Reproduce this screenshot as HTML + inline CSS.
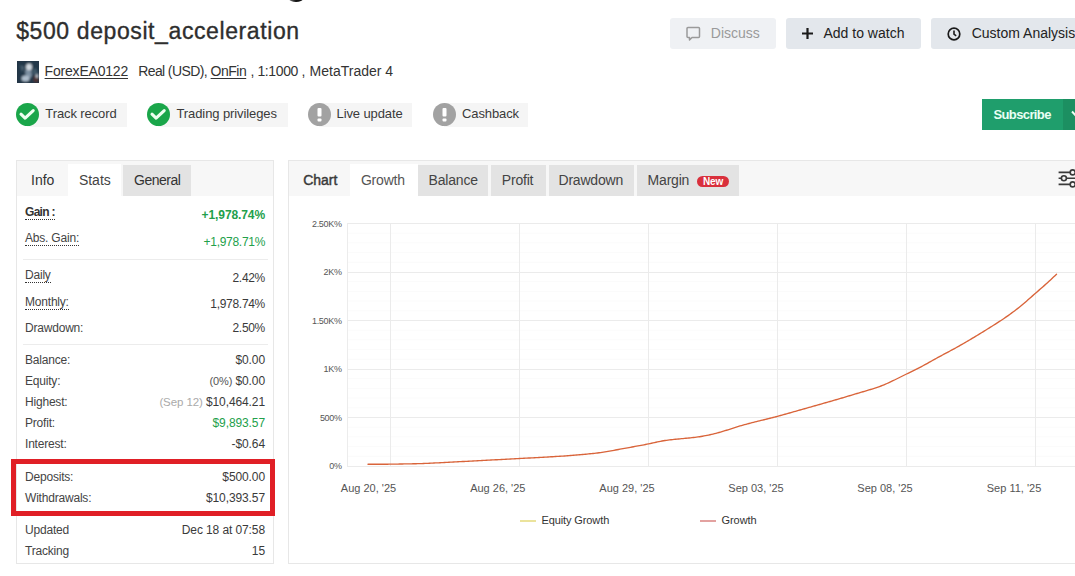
<!DOCTYPE html>
<html><head><meta charset="utf-8"><style>
html,body{margin:0;padding:0;background:#fff;width:1075px;height:576px;overflow:hidden;position:relative;font-family:"Liberation Sans",sans-serif}
.t{position:absolute;white-space:nowrap;line-height:1}
.r{position:absolute}
u{text-underline-offset:2px}
</style></head><body>
<div class="r" style="left:289px;top:-5px;width:14px;height:6.5px;border-radius:50%;background:linear-gradient(90deg,#777,#111 50%,#111)"></div>
<div class="t" style="left:16.20px;top:19.73px;font-size:23px;color:#2e2e2e;-webkit-text-stroke:0.35px #2e2e2e;letter-spacing:0.6px">$500 deposit_acceleration</div>
<svg class="r" style="left:17px;top:61px" width="22" height="22" viewBox="0 0 22 22"><defs><filter id="bl"><feGaussianBlur stdDeviation="0.9"/></filter></defs><rect width="22" height="22" fill="#1f3040"/><g filter="url(#bl)"><rect x="0" y="0" width="22" height="22" fill="#243848"/><path d="M3 4l5 2-3 5z" fill="#4a6070"/><ellipse cx="12" cy="6" rx="3" ry="3.5" fill="#d0d8e0"/><path d="M8 9l6 0 1 6-2 2-4 0z" fill="#7d90a2"/><ellipse cx="8.5" cy="17.5" rx="4" ry="3" fill="#aebdcc"/><ellipse cx="19" cy="18" rx="2.5" ry="3.5" fill="#503030"/><ellipse cx="20" cy="15" rx="1.5" ry="2" fill="#c0c8d0"/><path d="M14 10l5-3 2 6-4 1z" fill="#3f5868"/></g></svg>
<div class="t" style="left:44.60px;top:63.65px;font-size:14px;color:#333;letter-spacing:-0.2px"><u>ForexEA0122</u></div>
<div class="t" style="left:138.20px;top:63.65px;font-size:14px;color:#333;letter-spacing:-0.6px">Real (USD),</div>
<div class="t" style="left:210.60px;top:63.65px;font-size:14px;color:#333;letter-spacing:-0.5px"><u>OnFin</u></div>
<div class="t" style="left:250.50px;top:63.65px;font-size:14px;color:#333;letter-spacing:-0.4px">, 1:1000 ,</div>
<div class="t" style="left:309.60px;top:63.65px;font-size:14px;color:#333;letter-spacing:0px">MetaTrader 4</div>
<div class="r" style="left:670px;top:18px;width:106px;height:31px;background:#eff1f4;border-radius:3px"></div>
<svg class="r" style="left:685px;top:26px" width="17" height="16" viewBox="0 0 17 16"><path d="M3 1.5h10.5a1 1 0 0 1 1 1v8a1 1 0 0 1 -1 1h-6.5l-2.5 2.5v-2.5h-1.5a1 1 0 0 1 -1 -1v-8a1 1 0 0 1 1 -1z" fill="none" stroke="#9a9a9a" stroke-width="1.5" stroke-linejoin="round"/></svg>
<div class="t" style="left:710.80px;top:25.95px;font-size:14px;color:#9a9a9a;">Discuss</div>
<div class="r" style="left:786px;top:18px;width:135px;height:31px;background:#e3e7ec;border-radius:3px"></div>
<svg class="r" style="left:801px;top:27px" width="13" height="13" viewBox="0 0 13 13"><path d="M6.5 1v11M1 6.5h11" stroke="#1a1a1a" stroke-width="2.2"/></svg>
<div class="t" style="left:823.50px;top:25.95px;font-size:14px;color:#222;">Add to watch</div>
<div class="r" style="left:931px;top:18px;width:154px;height:31px;background:#e3e7ec;border-radius:3px"></div>
<svg class="r" style="left:946px;top:26.5px" width="16" height="14" viewBox="0 0 16 14"><circle cx="8" cy="7" r="5.8" fill="none" stroke="#1a1a1a" stroke-width="1.7"/><path d="M8 3.6v3.6l2.2 1.6" fill="none" stroke="#1a1a1a" stroke-width="1.6"/></svg>
<div class="t" style="left:971.70px;top:25.95px;font-size:14px;color:#222;">Custom Analysis</div>
<div class="r" style="left:27px;top:103px;width:100px;height:24px;background:#f5f5f5"></div>
<svg class="r" style="left:16px;top:103px" width="23" height="23" viewBox="0 0 23 23"><circle cx="11.5" cy="11.5" r="11.5" fill="#1aa64a"/><path d="M5 11.2L9.1 15.1L17.2 7.6" fill="none" stroke="#eefff0" stroke-width="3.1" stroke-linecap="round" stroke-linejoin="round"/></svg>
<div class="t" style="left:45.30px;top:106.90px;font-size:13px;color:#3a3a3a;letter-spacing:-0.1px">Track record</div>
<div class="r" style="left:158px;top:103px;width:130px;height:24px;background:#f5f5f5"></div>
<svg class="r" style="left:147px;top:103px" width="23" height="23" viewBox="0 0 23 23"><circle cx="11.5" cy="11.5" r="11.5" fill="#1aa64a"/><path d="M5 11.2L9.1 15.1L17.2 7.6" fill="none" stroke="#eefff0" stroke-width="3.1" stroke-linecap="round" stroke-linejoin="round"/></svg>
<div class="t" style="left:176.50px;top:106.90px;font-size:13px;color:#3a3a3a;letter-spacing:-0.1px">Trading privileges</div>
<div class="r" style="left:319px;top:103px;width:93px;height:24px;background:#f5f5f5"></div>
<svg class="r" style="left:308px;top:103px" width="23" height="23" viewBox="0 0 23 23"><circle cx="11.5" cy="11.5" r="11.5" fill="#a2a2a2"/><rect x="9.5" y="5" width="4" height="8.5" rx="1" fill="#fff"/><rect x="9.5" y="15.5" width="4" height="3" rx="1" fill="#fff"/></svg>
<div class="t" style="left:336.50px;top:106.90px;font-size:13px;color:#3a3a3a;letter-spacing:-0.1px">Live update</div>
<div class="r" style="left:444px;top:103px;width:84px;height:24px;background:#f5f5f5"></div>
<svg class="r" style="left:433px;top:103px" width="23" height="23" viewBox="0 0 23 23"><circle cx="11.5" cy="11.5" r="11.5" fill="#a2a2a2"/><rect x="9.5" y="5" width="4" height="8.5" rx="1" fill="#fff"/><rect x="9.5" y="15.5" width="4" height="3" rx="1" fill="#fff"/></svg>
<div class="t" style="left:462.00px;top:106.90px;font-size:13px;color:#3a3a3a;letter-spacing:-0.1px">Cashback</div>
<div class="r" style="left:982px;top:99px;width:93px;height:31px;background:#1f9e6c"></div>
<div class="r" style="left:1063px;top:99px;width:12px;height:31px;background:#1c8f61"></div>
<div class="t" style="left:993.40px;top:107.80px;font-size:13px;color:#eafff4;font-weight:bold;letter-spacing:-0.6px">Subscribe</div>
<svg class="r" style="left:1071px;top:110px" width="8" height="8" viewBox="0 0 8 8"><path d="M1 1.5l3 3.2 3-3.2" fill="none" stroke="#eafff4" stroke-width="2"/></svg>
<div class="r" style="left:16px;top:160px;width:258px;height:404px;border:1px solid #e7e7e7;box-sizing:border-box;background:#fff"></div>
<div class="r" style="left:17px;top:161px;width:256px;height:35px;background:#f7f7f7"></div>
<div class="r" style="left:68px;top:164px;width:53px;height:32px;background:#fff"></div>
<div class="r" style="left:123px;top:165px;width:68px;height:31px;background:#e3e3e3"></div>
<div class="t" style="left:31.00px;top:172.95px;font-size:14px;color:#333;">Info</div>
<div class="t" style="left:78.90px;top:172.95px;font-size:14px;color:#444;">Stats</div>
<div class="t" style="left:134.00px;top:172.95px;font-size:14px;color:#333;letter-spacing:-0.5px">General</div>
<div class="t" style="left:25.00px;top:206.24px;font-size:12px;color:#333;font-weight:bold;border-bottom:1px dotted #333;padding-bottom:1px;letter-spacing:-0.7px">Gain :</div>
<div class="t" style="left:25.00px;top:231.54px;font-size:12px;color:#444;border-bottom:1px dotted #333;padding-bottom:1px;letter-spacing:-0.2px">Abs. Gain:</div>
<div class="r" style="left:23px;top:259px;width:245px;height:1px;background:#ececec"></div>
<div class="t" style="left:25.00px;top:269.24px;font-size:12px;color:#444;border-bottom:1px dotted #333;padding-bottom:1px;letter-spacing:-0.2px">Daily</div>
<div class="t" style="left:25.00px;top:295.64px;font-size:12px;color:#444;border-bottom:1px dotted #333;padding-bottom:1px;letter-spacing:-0.2px">Monthly:</div>
<div class="t" style="left:25.00px;top:321.74px;font-size:12px;color:#444;letter-spacing:-0.2px">Drawdown:</div>
<div class="r" style="left:23px;top:344px;width:245px;height:1px;background:#ececec"></div>
<div class="t" style="left:25.00px;top:353.59px;font-size:12px;color:#444;letter-spacing:-0.2px">Balance:</div>
<div class="t" style="left:25.00px;top:375.34px;font-size:12px;color:#444;letter-spacing:-0.2px">Equity:</div>
<div class="t" style="left:25.00px;top:396.24px;font-size:12px;color:#444;letter-spacing:-0.2px">Highest:</div>
<div class="t" style="left:25.00px;top:417.34px;font-size:12px;color:#444;letter-spacing:-0.2px">Profit:</div>
<div class="t" style="left:25.00px;top:438.34px;font-size:12px;color:#444;letter-spacing:-0.2px">Interest:</div>
<div class="t" style="left:25.00px;top:471.24px;font-size:12px;color:#444;letter-spacing:-0.2px">Deposits:</div>
<div class="t" style="left:25.00px;top:492.24px;font-size:12px;color:#444;letter-spacing:-0.2px">Withdrawals:</div>
<div class="t" style="left:25.00px;top:523.54px;font-size:12px;color:#444;letter-spacing:-0.2px">Updated</div>
<div class="t" style="left:25.00px;top:544.54px;font-size:12px;color:#444;letter-spacing:-0.2px">Tracking</div>
<div class="t" style="right:810.00px;top:208.59px;font-size:12px;color:#22a04b;font-weight:bold;letter-spacing:-0.1px">+1,978.74%</div>
<div class="t" style="right:810.00px;top:235.64px;font-size:12px;color:#22a04b;letter-spacing:-0.3px">+1,978.71%</div>
<div class="t" style="right:810.00px;top:271.84px;font-size:12px;color:#3a3a3a;letter-spacing:-0.3px">2.42%</div>
<div class="t" style="right:810.00px;top:297.84px;font-size:12px;color:#3a3a3a;letter-spacing:-0.3px">1,978.74%</div>
<div class="t" style="right:810.00px;top:321.84px;font-size:12px;color:#3a3a3a;letter-spacing:-0.3px">2.50%</div>
<div class="t" style="right:810.00px;top:353.84px;font-size:12px;color:#3a3a3a;letter-spacing:-0.1px">$0.00</div>
<div class="t" style="right:810.00px;top:374.84px;font-size:12px;color:#3a3a3a;letter-spacing:-0.1px"><span style="font-size:11px;color:#555">(0%)</span> $0.00</div>
<div class="t" style="right:810.00px;top:395.84px;font-size:12px;color:#3a3a3a;letter-spacing:-0.1px"><span style="font-size:11.5px;color:#aaa">(Sep 12)</span> $10,464.21</div>
<div class="t" style="right:810.00px;top:416.84px;font-size:12px;color:#22a04b;letter-spacing:-0.1px">$9,893.57</div>
<div class="t" style="right:810.00px;top:437.84px;font-size:12px;color:#3a3a3a;letter-spacing:-0.1px">-$0.64</div>
<div class="t" style="right:810.00px;top:470.84px;font-size:12px;color:#3a3a3a;letter-spacing:-0.1px">$500.00</div>
<div class="t" style="right:810.00px;top:491.84px;font-size:12px;color:#3a3a3a;letter-spacing:-0.1px">$10,393.57</div>
<div class="t" style="right:810.00px;top:523.84px;font-size:12px;color:#3a3a3a;letter-spacing:-0.1px">Dec 18 at 07:58</div>
<div class="t" style="right:810.00px;top:544.84px;font-size:12px;color:#3a3a3a;letter-spacing:-0.1px">15</div>
<div class="r" style="left:11px;top:459px;width:264px;height:57px;border:5px solid #e01f26;box-sizing:border-box"></div>
<div class="r" style="left:288px;top:160px;width:802px;height:404px;border:1px solid #e7e7e7;box-sizing:border-box;background:#fff"></div>
<div class="r" style="left:289px;top:161px;width:800px;height:35px;background:#f7f7f7"></div>
<div class="t" style="left:303.20px;top:172.95px;font-size:14px;color:#3a3a3a;-webkit-text-stroke:0.45px #3a3a3a">Chart</div>
<div class="r" style="left:350px;top:164px;width:68px;height:32px;background:#fff"></div>
<div class="t" style="left:360.90px;top:172.95px;font-size:14px;color:#555;letter-spacing:-0.2px">Growth</div>
<div class="r" style="left:418px;top:165px;width:70px;height:31px;background:#e3e3e3"></div>
<div class="t" style="left:428.60px;top:172.95px;font-size:14px;color:#444;letter-spacing:-0.2px">Balance</div>
<div class="r" style="left:491px;top:165px;width:55px;height:31px;background:#e3e3e3"></div>
<div class="t" style="left:501.80px;top:172.95px;font-size:14px;color:#444;letter-spacing:-0.2px">Profit</div>
<div class="r" style="left:549px;top:165px;width:85px;height:31px;background:#e3e3e3"></div>
<div class="t" style="left:558.50px;top:172.95px;font-size:14px;color:#444;letter-spacing:-0.2px">Drawdown</div>
<div class="r" style="left:637px;top:165px;width:102px;height:31px;background:#e3e3e3"></div>
<div class="t" style="left:647.60px;top:172.95px;font-size:14px;color:#444;letter-spacing:-0.2px">Margin</div>
<div class="r" style="left:697px;top:176px;width:32px;height:11px;background:#d9303c;border-radius:6px"></div>
<div class="t" style="left:703.00px;top:176.73px;font-size:10px;color:#fff;font-weight:bold;letter-spacing:-0.2px">New</div>
<svg class="r" style="left:1057px;top:166px" width="20" height="24" viewBox="0 0 20 24"><g fill="none" stroke="#3a3a3a" stroke-width="1.6"><path d="M1.6 6.4h11.6M1.6 12.3h2.8M9.4 12.3h10.6M1.6 18.4h11.6"/><circle cx="15.7" cy="6.4" r="2.5"/><circle cx="6.9" cy="12.3" r="2.5"/><circle cx="15.7" cy="18.4" r="2.5"/></g></svg>
<svg class="r" style="left:0;top:0" width="1075" height="576" viewBox="0 0 1075 576"><line x1="347" x2="1075" y1="233.2" y2="233.2" stroke="#fbfbfb" stroke-width="1"/><line x1="347" x2="1075" y1="242.9" y2="242.9" stroke="#fbfbfb" stroke-width="1"/><line x1="347" x2="1075" y1="252.6" y2="252.6" stroke="#fbfbfb" stroke-width="1"/><line x1="347" x2="1075" y1="262.3" y2="262.3" stroke="#fbfbfb" stroke-width="1"/><line x1="347" x2="1075" y1="281.7" y2="281.7" stroke="#fbfbfb" stroke-width="1"/><line x1="347" x2="1075" y1="291.4" y2="291.4" stroke="#fbfbfb" stroke-width="1"/><line x1="347" x2="1075" y1="301.1" y2="301.1" stroke="#fbfbfb" stroke-width="1"/><line x1="347" x2="1075" y1="310.8" y2="310.8" stroke="#fbfbfb" stroke-width="1"/><line x1="347" x2="1075" y1="330.2" y2="330.2" stroke="#fbfbfb" stroke-width="1"/><line x1="347" x2="1075" y1="339.9" y2="339.9" stroke="#fbfbfb" stroke-width="1"/><line x1="347" x2="1075" y1="349.6" y2="349.6" stroke="#fbfbfb" stroke-width="1"/><line x1="347" x2="1075" y1="359.3" y2="359.3" stroke="#fbfbfb" stroke-width="1"/><line x1="347" x2="1075" y1="378.7" y2="378.7" stroke="#fbfbfb" stroke-width="1"/><line x1="347" x2="1075" y1="388.4" y2="388.4" stroke="#fbfbfb" stroke-width="1"/><line x1="347" x2="1075" y1="398.1" y2="398.1" stroke="#fbfbfb" stroke-width="1"/><line x1="347" x2="1075" y1="407.8" y2="407.8" stroke="#fbfbfb" stroke-width="1"/><line x1="347" x2="1075" y1="427.2" y2="427.2" stroke="#fbfbfb" stroke-width="1"/><line x1="347" x2="1075" y1="436.9" y2="436.9" stroke="#fbfbfb" stroke-width="1"/><line x1="347" x2="1075" y1="446.6" y2="446.6" stroke="#fbfbfb" stroke-width="1"/><line x1="347" x2="1075" y1="456.3" y2="456.3" stroke="#fbfbfb" stroke-width="1"/><line x1="347" x2="1075" y1="223.5" y2="223.5" stroke="#ebebeb" stroke-width="1"/><line x1="347" x2="1075" y1="272.5" y2="272.5" stroke="#ebebeb" stroke-width="1"/><line x1="347" x2="1075" y1="320.5" y2="320.5" stroke="#ebebeb" stroke-width="1"/><line x1="347" x2="1075" y1="369.5" y2="369.5" stroke="#ebebeb" stroke-width="1"/><line x1="347" x2="1075" y1="417.5" y2="417.5" stroke="#ebebeb" stroke-width="1"/><line x1="347" x2="1075" y1="466.5" y2="466.5" stroke="#ebebeb" stroke-width="1"/><line x1="390.5" x2="390.5" y1="223" y2="466" stroke="#ebebeb" stroke-width="1"/><line x1="519.5" x2="519.5" y1="223" y2="466" stroke="#ebebeb" stroke-width="1"/><line x1="648.5" x2="648.5" y1="223" y2="466" stroke="#ebebeb" stroke-width="1"/><line x1="777.5" x2="777.5" y1="223" y2="466" stroke="#ebebeb" stroke-width="1"/><line x1="906.5" x2="906.5" y1="223" y2="466" stroke="#ebebeb" stroke-width="1"/><line x1="1035.5" x2="1035.5" y1="223" y2="466" stroke="#ebebeb" stroke-width="1"/><line x1="347.5" x2="347.5" y1="223" y2="466" stroke="#ececec" stroke-width="1"/><path d="M368.0,464.29 L369.5,464.29 L371.0,464.28 L372.5,464.28 L374.0,464.27 L375.5,464.27 L377.0,464.26 L378.5,464.25 L380.0,464.25 L381.5,464.24 L383.0,464.23 L384.5,464.22 L386.0,464.21 L387.5,464.20 L389.0,464.19 L390.5,464.17 L392.0,464.15 L393.5,464.13 L395.0,464.10 L396.5,464.08 L398.0,464.05 L399.5,464.02 L401.0,464.00 L402.5,463.97 L404.0,463.94 L405.5,463.91 L407.0,463.88 L408.5,463.86 L410.0,463.83 L411.5,463.80 L413.0,463.77 L414.5,463.74 L416.0,463.71 L417.5,463.68 L419.0,463.64 L420.5,463.60 L422.0,463.55 L423.5,463.50 L425.0,463.44 L426.5,463.38 L428.0,463.31 L429.5,463.24 L431.0,463.17 L432.5,463.10 L434.0,463.02 L435.5,462.95 L437.0,462.87 L438.5,462.80 L440.0,462.73 L441.5,462.65 L443.0,462.57 L444.5,462.50 L446.0,462.42 L447.5,462.34 L449.0,462.26 L450.5,462.18 L452.0,462.10 L453.5,462.02 L455.0,461.94 L456.5,461.86 L458.0,461.78 L459.5,461.70 L461.0,461.62 L462.5,461.54 L464.0,461.46 L465.5,461.38 L467.0,461.30 L468.5,461.22 L470.0,461.14 L471.5,461.06 L473.0,460.98 L474.5,460.90 L476.0,460.82 L477.5,460.74 L479.0,460.66 L480.5,460.58 L482.0,460.50 L483.5,460.42 L485.0,460.34 L486.5,460.26 L488.0,460.18 L489.5,460.10 L491.0,460.02 L492.5,459.94 L494.0,459.87 L495.5,459.79 L497.0,459.71 L498.5,459.63 L500.0,459.55 L501.5,459.47 L503.0,459.39 L504.5,459.31 L506.0,459.23 L507.5,459.16 L509.0,459.08 L510.5,459.00 L512.0,458.92 L513.5,458.84 L515.0,458.76 L516.5,458.68 L518.0,458.60 L519.5,458.52 L521.0,458.44 L522.5,458.36 L524.0,458.28 L525.5,458.20 L527.0,458.12 L528.5,458.04 L530.0,457.96 L531.5,457.88 L533.0,457.80 L534.5,457.72 L536.0,457.64 L537.5,457.56 L539.0,457.47 L540.5,457.39 L542.0,457.31 L543.5,457.22 L545.0,457.14 L546.5,457.05 L548.0,456.97 L549.5,456.88 L551.0,456.79 L552.5,456.71 L554.0,456.62 L555.5,456.53 L557.0,456.44 L558.5,456.35 L560.0,456.26 L561.5,456.16 L563.0,456.06 L564.5,455.96 L566.0,455.85 L567.5,455.74 L569.0,455.62 L570.5,455.49 L572.0,455.37 L573.5,455.24 L575.0,455.12 L576.5,454.99 L578.0,454.86 L579.5,454.73 L581.0,454.61 L582.5,454.48 L584.0,454.34 L585.5,454.21 L587.0,454.07 L588.5,453.93 L590.0,453.79 L591.5,453.64 L593.0,453.49 L594.5,453.33 L596.0,453.16 L597.5,452.98 L599.0,452.79 L600.5,452.59 L602.0,452.36 L603.5,452.13 L605.0,451.88 L606.5,451.62 L608.0,451.36 L609.5,451.09 L611.0,450.83 L612.5,450.56 L614.0,450.29 L615.5,450.02 L617.0,449.75 L618.5,449.48 L620.0,449.21 L621.5,448.94 L623.0,448.66 L624.5,448.39 L626.0,448.12 L627.5,447.84 L629.0,447.57 L630.5,447.29 L632.0,447.02 L633.5,446.74 L635.0,446.46 L636.5,446.19 L638.0,445.91 L639.5,445.63 L641.0,445.36 L642.5,445.08 L644.0,444.79 L645.5,444.50 L647.0,444.20 L648.5,443.90 L650.0,443.58 L651.5,443.26 L653.0,442.93 L654.5,442.60 L656.0,442.26 L657.5,441.93 L659.0,441.62 L660.5,441.31 L662.0,441.03 L663.5,440.77 L665.0,440.53 L666.5,440.32 L668.0,440.13 L669.5,439.95 L671.0,439.77 L672.5,439.61 L674.0,439.45 L675.5,439.29 L677.0,439.13 L678.5,438.98 L680.0,438.84 L681.5,438.69 L683.0,438.55 L684.5,438.41 L686.0,438.28 L687.5,438.14 L689.0,438.00 L690.5,437.86 L692.0,437.70 L693.5,437.53 L695.0,437.35 L696.5,437.16 L698.0,436.94 L699.5,436.72 L701.0,436.48 L702.5,436.22 L704.0,435.95 L705.5,435.67 L707.0,435.37 L708.5,435.06 L710.0,434.73 L711.5,434.39 L713.0,434.04 L714.5,433.67 L716.0,433.29 L717.5,432.89 L719.0,432.48 L720.5,432.05 L722.0,431.61 L723.5,431.17 L725.0,430.71 L726.5,430.24 L728.0,429.77 L729.5,429.30 L731.0,428.81 L732.5,428.33 L734.0,427.84 L735.5,427.36 L737.0,426.89 L738.5,426.42 L740.0,425.97 L741.5,425.53 L743.0,425.10 L744.5,424.68 L746.0,424.28 L747.5,423.87 L749.0,423.48 L750.5,423.09 L752.0,422.70 L753.5,422.32 L755.0,421.95 L756.5,421.57 L758.0,421.20 L759.5,420.83 L761.0,420.46 L762.5,420.09 L764.0,419.72 L765.5,419.35 L767.0,418.98 L768.5,418.61 L770.0,418.24 L771.5,417.87 L773.0,417.49 L774.5,417.11 L776.0,416.73 L777.5,416.33 L779.0,415.93 L780.5,415.52 L782.0,415.11 L783.5,414.69 L785.0,414.26 L786.5,413.84 L788.0,413.41 L789.5,412.99 L791.0,412.56 L792.5,412.14 L794.0,411.71 L795.5,411.29 L797.0,410.86 L798.5,410.43 L800.0,410.01 L801.5,409.59 L803.0,409.16 L804.5,408.74 L806.0,408.31 L807.5,407.89 L809.0,407.47 L810.5,407.04 L812.0,406.62 L813.5,406.19 L815.0,405.77 L816.5,405.34 L818.0,404.92 L819.5,404.49 L821.0,404.06 L822.5,403.63 L824.0,403.20 L825.5,402.77 L827.0,402.34 L828.5,401.91 L830.0,401.48 L831.5,401.05 L833.0,400.61 L834.5,400.18 L836.0,399.75 L837.5,399.31 L839.0,398.87 L840.5,398.43 L842.0,397.99 L843.5,397.55 L845.0,397.10 L846.5,396.65 L848.0,396.21 L849.5,395.76 L851.0,395.31 L852.5,394.86 L854.0,394.41 L855.5,393.96 L857.0,393.52 L858.5,393.07 L860.0,392.62 L861.5,392.17 L863.0,391.73 L864.5,391.28 L866.0,390.84 L867.5,390.39 L869.0,389.95 L870.5,389.50 L872.0,389.05 L873.5,388.59 L875.0,388.12 L876.5,387.62 L878.0,387.11 L879.5,386.57 L881.0,386.00 L882.5,385.41 L884.0,384.79 L885.5,384.15 L887.0,383.50 L888.5,382.82 L890.0,382.14 L891.5,381.44 L893.0,380.72 L894.5,379.99 L896.0,379.25 L897.5,378.50 L899.0,377.75 L900.5,376.99 L902.0,376.24 L903.5,375.49 L905.0,374.74 L906.5,374.00 L908.0,373.27 L909.5,372.54 L911.0,371.81 L912.5,371.08 L914.0,370.35 L915.5,369.62 L917.0,368.88 L918.5,368.12 L920.0,367.35 L921.5,366.57 L923.0,365.76 L924.5,364.95 L926.0,364.12 L927.5,363.29 L929.0,362.46 L930.5,361.62 L932.0,360.78 L933.5,359.94 L935.0,359.11 L936.5,358.28 L938.0,357.45 L939.5,356.63 L941.0,355.81 L942.5,355.00 L944.0,354.19 L945.5,353.39 L947.0,352.58 L948.5,351.78 L950.0,350.98 L951.5,350.17 L953.0,349.36 L954.5,348.55 L956.0,347.73 L957.5,346.90 L959.0,346.06 L960.5,345.21 L962.0,344.35 L963.5,343.48 L965.0,342.61 L966.5,341.73 L968.0,340.85 L969.5,339.97 L971.0,339.09 L972.5,338.20 L974.0,337.31 L975.5,336.41 L977.0,335.51 L978.5,334.60 L980.0,333.68 L981.5,332.76 L983.0,331.83 L984.5,330.89 L986.0,329.96 L987.5,329.02 L989.0,328.08 L990.5,327.14 L992.0,326.20 L993.5,325.26 L995.0,324.31 L996.5,323.36 L998.0,322.40 L999.5,321.43 L1001.0,320.45 L1002.5,319.45 L1004.0,318.44 L1005.5,317.42 L1007.0,316.39 L1008.5,315.33 L1010.0,314.26 L1011.5,313.17 L1013.0,312.06 L1014.5,310.93 L1016.0,309.78 L1017.5,308.61 L1019.0,307.42 L1020.5,306.21 L1022.0,304.98 L1023.5,303.72 L1025.0,302.44 L1026.5,301.15 L1028.0,299.84 L1029.5,298.52 L1031.0,297.19 L1032.5,295.87 L1034.0,294.55 L1035.5,293.24 L1037.0,291.93 L1038.5,290.62 L1040.0,289.31 L1041.5,288.01 L1043.0,286.69 L1044.5,285.37 L1046.0,284.03 L1047.5,282.67 L1049.0,281.30 L1050.5,279.91 L1052.0,278.51 L1053.5,277.09 L1055.0,275.67 L1056.5,274.25" fill="none" stroke="#d9643a" stroke-width="1.35" stroke-linejoin="round" stroke-linecap="round"/><line x1="520" x2="536" y1="521" y2="521" stroke="#ebe39c" stroke-width="2"/><line x1="700" x2="716" y1="521" y2="521" stroke="#e3a2a0" stroke-width="2"/></svg>
<div class="t" style="right:733.30px;top:219.88px;font-size:9px;color:#555;letter-spacing:-0.3px">2.50K%</div>
<div class="t" style="right:733.30px;top:268.38px;font-size:9px;color:#555;letter-spacing:-0.3px">2K%</div>
<div class="t" style="right:733.30px;top:316.88px;font-size:9px;color:#555;letter-spacing:-0.3px">1.50K%</div>
<div class="t" style="right:733.30px;top:365.38px;font-size:9px;color:#555;letter-spacing:-0.3px">1K%</div>
<div class="t" style="right:733.30px;top:413.88px;font-size:9px;color:#555;letter-spacing:-0.3px">500%</div>
<div class="t" style="right:733.30px;top:462.38px;font-size:9px;color:#555;letter-spacing:-0.3px">0%</div>
<div class="t" style="left:328.5px;width:80px;text-align:center;top:482.69px;font-size:11px;color:#555">Aug 20, '25</div>
<div class="t" style="left:457.8px;width:80px;text-align:center;top:482.69px;font-size:11px;color:#555">Aug 26, '25</div>
<div class="t" style="left:587px;width:80px;text-align:center;top:482.69px;font-size:11px;color:#555">Aug 29, '25</div>
<div class="t" style="left:716px;width:80px;text-align:center;top:482.69px;font-size:11px;color:#555">Sep 03, '25</div>
<div class="t" style="left:845px;width:80px;text-align:center;top:482.69px;font-size:11px;color:#555">Sep 08, '25</div>
<div class="t" style="left:974px;width:80px;text-align:center;top:482.69px;font-size:11px;color:#555">Sep 11, '25</div>
<div class="t" style="left:541.40px;top:514.89px;font-size:11px;color:#333;letter-spacing:-0.1px">Equity Growth</div>
<div class="t" style="left:721.60px;top:514.89px;font-size:11px;color:#333;letter-spacing:-0.1px">Growth</div>
</body></html>
